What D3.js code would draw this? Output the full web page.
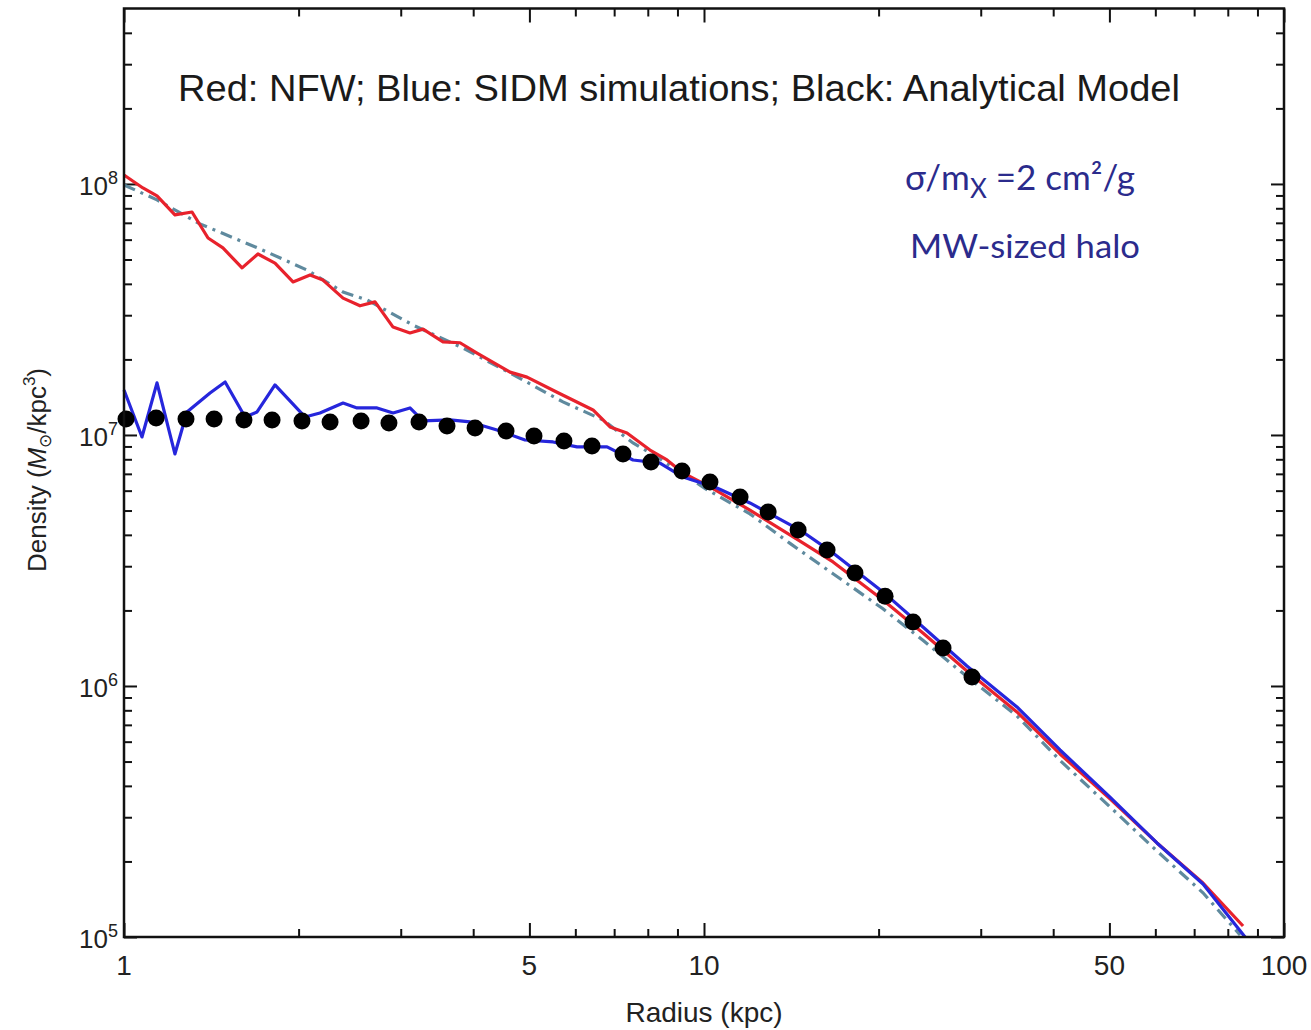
<!DOCTYPE html>
<html><head><meta charset="utf-8">
<script src="https://cdn.jsdelivr.net/npm/d3@7"></script>
<style>body{margin:0;background:#fff}</style>
</head><body>
<svg id="chart" width="1311" height="1030"></svg>
<script>
// ---- data ----
const radiusMajorTicks = [1, 5, 10, 50, 100];
const radiusMinorTicks = [2, 3, 4, 6, 7, 8, 9, 20, 30, 40, 60, 70, 80, 90];
const radiusTickLabels = ["1", "5", "10", "50", "100"];
const densityMajorTicks = [1e5, 1e6, 1e7, 1e8];
const densityTickExponents = ["5", "6", "7", "8"];
const densityMinorTicks = [2e5,3e5,4e5,5e5,6e5,7e5,8e5,9e5,2e6,3e6,4e6,5e6,6e6,7e6,8e6,9e6,2e7,3e7,4e7,5e7,6e7,7e7,8e7,9e7,2e8,3e8,4e8];

// Red: NFW simulation
const nfwRadius = [1.0,1.078,1.14,1.224,1.31,1.396,1.481,1.598,1.702,1.821,1.956,2.093,2.203,2.386,2.552,2.709,2.91,3.112,3.278,3.548,3.796,4.061,4.629,4.953,5.579,6.437,6.886,7.365,8.07,8.634,9.201,10.24,12.0,14.64,16.69,20.35,23.85,28.4,34.64,41.1,50.12,60.39,72.5,85.0];
const nfwDensity = [1.086e8,9.64e7,8.96e7,7.53e7,7.73e7,6.09e7,5.56e7,4.63e7,5.26e7,4.84e7,4.07e7,4.34e7,4.14e7,3.51e7,3.27e7,3.39e7,2.69e7,2.55e7,2.64e7,2.35e7,2.33e7,2.12e7,1.78e7,1.70e7,1.48e7,1.258e7,1.076e7,1.019e7,8.71e6,7.95e6,7.06e6,6.21e6,5.02e6,3.78e6,3.12e6,2.20e6,1.626e6,1.148e6,7.88e5,5.36e5,3.55e5,2.37e5,1.64e5,1.106e5];

// Blue: SIDM simulation
const sidmRadius = [1.0,1.074,1.14,1.224,1.284,1.407,1.494,1.617,1.696,1.821,2.051,2.177,2.386,2.522,2.731,2.91,3.112,3.278,3.648,3.95,4.397,4.914,5.492,6.04,6.805,7.544,8.397,9.201,10.53,12.0,14.64,16.69,20.35,23.85,28.4,34.64,41.1,50.12,60.39,72.5,85.67];
const sidmDensity = [1.511e7,9.82e6,1.612e7,8.40e6,1.235e7,1.470e7,1.626e7,1.180e7,1.235e7,1.582e7,1.180e7,1.224e7,1.341e7,1.281e7,1.281e7,1.224e7,1.281e7,1.137e7,1.148e7,1.127e7,1.047e7,9.55e6,9.38e6,8.96e6,8.96e6,7.95e6,7.73e6,6.80e6,6.15e6,5.36e6,4.18e6,3.39e6,2.37e6,1.718e6,1.202e6,8.25e5,5.56e5,3.61e5,2.37e5,1.626e5,1.0e5];

// Dash-dot: NFW fit
const fitRadius = [1.0,1.14,1.352,1.716,2.068,2.386,2.624,3.15,3.842,4.874,5.713,6.696,7.544,8.298,10.08,12.0,14.07,16.69,20.35,23.85,28.4,34.64,41.1,50.12,60.39,72.5,84.0];
const fitDensity = [9.91e7,8.64e7,6.93e7,5.51e7,4.54e7,3.71e7,3.45e7,2.74e7,2.22e7,1.656e7,1.354e7,1.148e7,9.29e6,8.17e6,6.09e6,4.85e6,3.70e6,2.80e6,2.03e6,1.52e6,1.09e6,7.6e5,5.05e5,3.3e5,2.2e5,1.50e5,1.018e5];

// Black dots: analytical model
const modelRadius = [1.008,1.136,1.279,1.43,1.61,1.8,2.027,2.266,2.563,2.863,3.226,3.605,4.03,4.557,5.092,5.735,6.411,7.25,8.102,9.164,10.24,11.54,12.9,14.53,16.3,18.21,20.52,22.93,25.83,28.98];
const modelDensity = [1.158e7,1.169e7,1.158e7,1.158e7,1.148e7,1.148e7,1.137e7,1.127e7,1.137e7,1.116e7,1.127e7,1.086e7,1.066e7,1.037e7,9.91e6,9.46e6,9.04e6,8.40e6,7.81e6,7.19e6,6.50e6,5.66e6,4.93e6,4.18e6,3.48e6,2.82e6,2.28e6,1.80e6,1.417e6,1.086e6];

// ---- chart ----
const svg = d3.select('#chart');
svg.append('rect').attr('width',1311).attr('height',1030).attr('fill','#fff');
const x = d3.scaleLog().domain([1,100]).range([124,1284]);
const y = d3.scaleLog().domain([1e5,5e8]).range([937,8.5]);
const [x0,x1] = x.range();
const [yb,yt] = y.range();
const fontMain = "'Liberation Sans', Arial, sans-serif";

function styleAxis(g){
  g.select('.domain').remove();
  g.selectAll('.tick line').attr('stroke','#111').attr('stroke-width',2);
  g.selectAll('.tick text').remove();
}
const majX = 14, minX = 8, majY = 13, minY = 8;
svg.append('g').attr('transform',`translate(0,${yb})`).call(d3.axisBottom(x).tickValues(radiusMajorTicks).tickSizeInner(-majX).tickSizeOuter(0)).call(styleAxis);
svg.append('g').attr('transform',`translate(0,${yb})`).call(d3.axisBottom(x).tickValues(radiusMinorTicks).tickSizeInner(-minX).tickSizeOuter(0)).call(styleAxis);
svg.append('g').attr('transform',`translate(0,${yt})`).call(d3.axisTop(x).tickValues(radiusMajorTicks).tickSizeInner(-majX).tickSizeOuter(0)).call(styleAxis);
svg.append('g').attr('transform',`translate(0,${yt})`).call(d3.axisTop(x).tickValues(radiusMinorTicks).tickSizeInner(-minX).tickSizeOuter(0)).call(styleAxis);
svg.append('g').attr('transform',`translate(${x0},0)`).call(d3.axisLeft(y).tickValues(densityMajorTicks).tickSizeInner(-majY).tickSizeOuter(0)).call(styleAxis);
svg.append('g').attr('transform',`translate(${x0},0)`).call(d3.axisLeft(y).tickValues(densityMinorTicks).tickSizeInner(-minY).tickSizeOuter(0)).call(styleAxis);
svg.append('g').attr('transform',`translate(${x1},0)`).call(d3.axisRight(y).tickValues(densityMajorTicks).tickSizeInner(-majY).tickSizeOuter(0)).call(styleAxis);
svg.append('g').attr('transform',`translate(${x1},0)`).call(d3.axisRight(y).tickValues(densityMinorTicks).tickSizeInner(-minY).tickSizeOuter(0)).call(styleAxis);

// tick labels
svg.append('g').selectAll('text').data(radiusMajorTicks).join('text')
  .attr('x',d=>x(d)).attr('y',yb+38).attr('text-anchor','middle')
  .attr('font-family',fontMain).attr('font-size',28).attr('fill','#222')
  .text((d,i)=>radiusTickLabels[i]);
const yl = svg.append('g').selectAll('text').data(densityMajorTicks).join('text')
  .attr('x',118).attr('y',d=>y(d)+11).attr('text-anchor','end')
  .attr('font-family',fontMain).attr('font-size',26).attr('fill','#222');
yl.append('tspan').text('10');
yl.append('tspan').attr('font-size',18).attr('dy',-11).text((d,i)=>densityTickExponents[i]);

// axis titles
svg.append('text').attr('x',(x0+x1)/2).attr('y',1022).attr('text-anchor','middle')
  .attr('font-family',fontMain).attr('font-size',28).attr('fill','#222').text('Radius (kpc)');
const ylab = svg.append('text').attr('transform','translate(46,470) rotate(-90)').attr('text-anchor','middle')
  .attr('font-family',fontMain).attr('font-size',26).attr('fill','#222');
ylab.append('tspan').text('Density (');
ylab.append('tspan').attr('font-style','italic').text('M');
ylab.append('tspan').attr('font-size',17).attr('dy',5).text('⊙');
ylab.append('tspan').attr('dy',-5).text('/kpc');
ylab.append('tspan').attr('font-size',17).attr('dy',-11).text('3');
ylab.append('tspan').attr('dy',11).text(')');

// lines
const line = d3.line().x(d=>x(d[0])).y(d=>y(d[1]));
const plot = svg.append('g');
plot.append('path').datum(d3.zip(fitRadius,fitDensity)).attr('d',line)
  .attr('fill','none').attr('stroke','#5f8a9e').attr('stroke-width',3.2).attr('stroke-dasharray','12,6,3,6');
plot.append('path').datum(d3.zip(nfwRadius,nfwDensity)).attr('d',line)
  .attr('fill','none').attr('stroke','#e8222c').attr('stroke-width',3.2).attr('stroke-linejoin','round');
plot.append('path').datum(d3.zip(sidmRadius,sidmDensity)).attr('d',line)
  .attr('fill','none').attr('stroke','#2626dc').attr('stroke-width',3.2).attr('stroke-linejoin','round');
plot.append('g').selectAll('circle').data(d3.zip(modelRadius,modelDensity)).join('circle')
  .attr('cx',d=>x(d[0])).attr('cy',d=>y(d[1])).attr('r',8.5).attr('fill','#000');

// frame
svg.append('rect').attr('x',x0).attr('y',yt).attr('width',x1-x0).attr('height',yb-yt)
  .attr('fill','none').attr('stroke','#111').attr('stroke-width',2.5);

// annotations
svg.append('text').attr('x',178).attr('y',101).attr('font-family',fontMain).attr('font-size',36)
  .attr('fill','#1a1a1a').attr('textLength',1002).attr('lengthAdjust','spacingAndGlyphs')
  .text('Red: NFW; Blue: SIDM simulations; Black: Analytical Model');
const fontLegend = "Lato, 'Open Sans', sans-serif";
const s1 = svg.append('text').attr('x',905).attr('y',190).attr('font-family',fontLegend).attr('font-size',35).attr('fill','#2b2b8c');
s1.append('tspan').text('σ/m');
s1.append('tspan').attr('font-size',26).attr('dy',8).text('X');
s1.append('tspan').attr('dy',-8).text(' =2 cm²/g');
svg.append('text').attr('x',910).attr('y',258).attr('font-family',fontLegend).attr('font-size',33).attr('fill','#2b2b8c')
  .attr('textLength',230).attr('lengthAdjust','spacingAndGlyphs').text('MW-sized halo');
</script>
</body></html>
